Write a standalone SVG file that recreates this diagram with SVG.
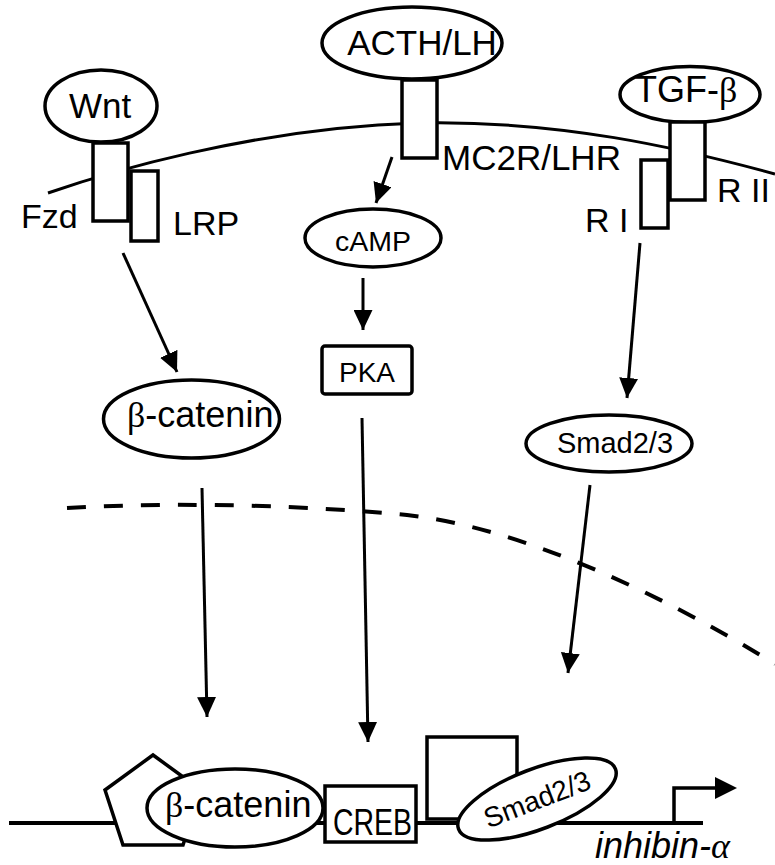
<svg xmlns="http://www.w3.org/2000/svg" width="775" height="865" viewBox="0 0 775 865">
<defs>
<style>
.s{fill:#fff;stroke:#000;stroke-width:3.5}
.t{font-family:"Liberation Sans",Arial,sans-serif;fill:#000}
.g{font-family:"Liberation Serif","Times New Roman",serif}
.c{fill:none;stroke:#000;stroke-width:3}
</style>
<marker id="ah" markerUnits="userSpaceOnUse" markerWidth="20" markerHeight="19" refX="20" refY="9.5" orient="auto">
<path d="M0,0 L20,9.5 L0,19 z" fill="#000"/>
</marker>
</defs>
<rect width="775" height="865" fill="#fff"/>
<!-- membrane -->
<path id="membrane" d="M48,193 C100,175 250,128 418,123 C560,120 680,148 775,174" fill="none" stroke="#000" stroke-width="3"/>
<!-- nuclear envelope -->
<path id="nucleus" d="M67,508 C150,503 280,503 407,515 C500,525 630,575 775,664" fill="none" stroke="#000" stroke-width="4" stroke-dasharray="19 18"/>
<!-- DNA -->
<line id="dna" x1="9" y1="823" x2="703" y2="823" stroke="#000" stroke-width="4"/>

<g id="wnt">
<ellipse class="s" cx="101" cy="106" rx="56" ry="36"/>
<text class="t" x="100" y="118" font-size="35" text-anchor="middle">Wnt</text>
</g>
<g id="fzd">
<rect class="s" x="93" y="143" width="35" height="78"/>
<text class="t" x="21" y="228" font-size="34">Fzd</text>
</g>
<g id="lrp">
<rect class="s" x="131" y="171" width="27" height="70"/>
<text class="t" x="173" y="235" font-size="34">LRP</text>
</g>
<g id="acth">
<ellipse class="s" cx="412" cy="43" rx="90" ry="36"/>
<text class="t" x="422" y="55" font-size="35" text-anchor="middle">ACTH/LH</text>
</g>
<g id="mc2r">
<rect class="s" x="402" y="80" width="35" height="78"/>
<text class="t" x="442" y="170" font-size="35">MC2R/LHR</text>
</g>
<g id="tgf">
<ellipse class="s" cx="690" cy="94.5" rx="70" ry="28"/>
<text class="t" x="635" y="102" font-size="36">TGF-<tspan class="g">β</tspan></text>
</g>
<g id="r1">
<rect class="s" x="641" y="160" width="27" height="68"/>
<text class="t" x="585" y="232" font-size="34">R I</text>
</g>
<g id="r2">
<rect class="s" x="670" y="122" width="35" height="78"/>
<text class="t" x="717" y="202" font-size="34">R II</text>
</g>
<g id="camp">
<ellipse class="s" cx="373" cy="238" rx="68" ry="29"/>
<text class="t" x="373" y="251" font-size="28.5" text-anchor="middle">cAMP</text>
</g>
<g id="pka">
<rect class="s" x="322" y="346" width="90" height="48" rx="3"/>
<text class="t" x="367" y="382" font-size="28" text-anchor="middle">PKA</text>
</g>
<g id="bcat">
<ellipse class="s" cx="191.5" cy="419" rx="88" ry="39"/>
<text class="t" x="127" y="427" font-size="36"><tspan class="g">β</tspan>-catenin</text>
</g>
<g id="smad">
<ellipse class="s" cx="609" cy="443.5" rx="83" ry="28.5"/>
<text class="t" x="615" y="453" font-size="29" text-anchor="middle">Smad2/3</text>
</g>

<g id="connectors">
<line class="c" x1="123" y1="253" x2="177" y2="372" marker-end="url(#ah)"/>
<line class="c" x1="392" y1="157" x2="376" y2="203" marker-end="url(#ah)"/>
<line class="c" x1="363" y1="278" x2="363" y2="330" marker-end="url(#ah)"/>
<line class="c" x1="640" y1="243" x2="627" y2="398" marker-end="url(#ah)"/>
<line class="c" x1="202" y1="488" x2="207" y2="717" marker-end="url(#ah)"/>
<line class="c" x1="362" y1="418" x2="368" y2="742" marker-end="url(#ah)"/>
<line class="c" x1="590" y1="485" x2="568" y2="673" marker-end="url(#ah)"/>
</g>

<g id="pentagon">
<polygon class="s" points="153,755 201,790 183,845 123,845 105,790"/>
</g>
<g id="bcat-dna">
<ellipse class="s" cx="235" cy="808" rx="88" ry="39"/>
<text class="t" x="165" y="817" font-size="36"><tspan class="g">β</tspan>-catenin</text>
</g>
<g id="creb">
<rect class="s" x="325" y="786" width="91" height="56"/>
<text class="t" x="333" y="835" font-size="37" textLength="79" lengthAdjust="spacingAndGlyphs">CREB</text>
</g>
<g id="box">
<rect class="s" x="427" y="737" width="90" height="82"/>
</g>
<g id="smad-dna">
<ellipse class="s" cx="537" cy="799" rx="84" ry="30" transform="rotate(-21 537 799)"/>
<text class="t" x="537" y="809" font-size="28" text-anchor="middle" transform="rotate(-21 537 799)">Smad2/3</text>
</g>
<g id="promoter">
<polyline points="674,823 674,788 716,788" fill="none" stroke="#000" stroke-width="3.5"/>
<polygon points="715,777 737,788 715,799" fill="#000"/>
<text class="t" x="595" y="858" font-size="36" font-style="italic">inhibin-<tspan class="g">α</tspan></text>
</g>
</svg>
